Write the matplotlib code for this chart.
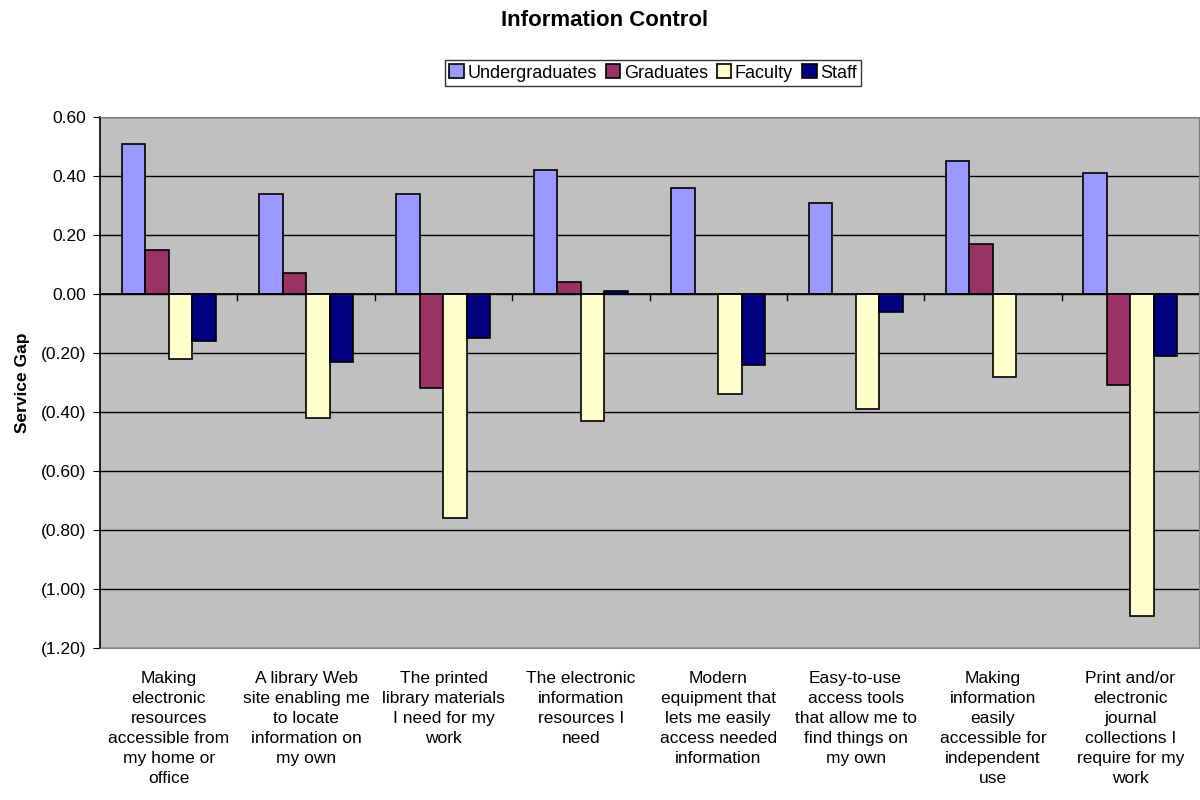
import numpy as np
import matplotlib
matplotlib.use("Agg")
import matplotlib.pyplot as plt
from matplotlib.ticker import FuncFormatter

plt.rcParams["font.family"] = ["Liberation Sans", "DejaVu Sans"]

categories = [
    "Making\nelectronic\nresources\naccessible from\nmy home or\noffice",
    "A library Web\nsite enabling me\nto locate\ninformation on\nmy own",
    "The printed\nlibrary materials\nI need for my\nwork",
    "The electronic\ninformation\nresources I\nneed",
    "Modern\nequipment that\nlets me easily\naccess needed\ninformation",
    "Easy-to-use\naccess tools\nthat allow me to\nfind things on\nmy own",
    "Making\ninformation\neasily\naccessible for\nindependent\nuse",
    "Print and/or\nelectronic\njournal\ncollections I\nrequire for my\nwork",
]
series_names = ["Undergraduates", "Graduates", "Faculty", "Staff"]
undergrads = [0.51, 0.34, 0.34, 0.42, 0.36, 0.31, 0.45, 0.41]
graduates = [0.15, 0.07, -0.32, 0.04, 0.0, 0.0, 0.17, -0.31]
faculty = [-0.22, -0.42, -0.76, -0.43, -0.34, -0.39, -0.28, -1.09]
staff = [-0.16, -0.23, -0.15, 0.01, -0.24, -0.06, 0.0, -0.21]
colors = ["#9999FF", "#993366", "#FFFFCC", "#000080"]

fig = plt.figure(figsize=(12, 8), dpi=100)
ax = fig.add_axes([100 / 1200, 1 - 648 / 800, 1099 / 1200, (648 - 117) / 800])
ax.set_facecolor("#C0C0C0")

x = np.arange(len(categories))
w = 0.171
for i, (vals, name, col) in enumerate(zip([undergrads, graduates, faculty, staff],
                                          series_names, colors)):
    vals = np.array(vals)
    mask = vals != 0
    ax.bar(x[mask] + (i - 1.5) * w, vals[mask], width=w, color=col,
           edgecolor="black", linewidth=1.2, label=name, zorder=3)

ax.set_xlim(-0.5, len(categories) - 0.5)
ax.set_ylim(-1.2, 0.6)
ax.set_yticks(np.arange(-1.2, 0.61, 0.2))
ax.yaxis.set_major_formatter(FuncFormatter(
    lambda v, p: f"({abs(v):.2f})" if v < -1e-9 else f"{abs(v):.2f}"))
ax.grid(axis="y", color="black", linewidth=1, zorder=1)
ax.tick_params(axis="y", labelsize=12.5, length=5, direction="out", pad=5)

# category labels below plot area, boundary ticks on the zero line
ax.set_xticks([])
for xi, lab in zip(x, categories):
    ax.text(xi, -1.278, lab, ha="center", va="top", fontsize=12.5,
            linespacing=1.42, transform=ax.transData, clip_on=False)
for b in np.arange(0.5, len(categories) - 0.5, 1.0):
    ax.plot([b, b], [0, -0.02], color="black", linewidth=1, zorder=4)
ax.axhline(0, color="black", linewidth=1.2, zorder=4)

for s in ["top", "right", "bottom"]:
    ax.spines[s].set_color("#808080")
ax.spines["left"].set_color("black")
ax.spines["left"].set_linewidth(1.2)

ax.set_ylabel("Service Gap", fontsize=12.5, fontweight="bold", labelpad=8)
fig.text(605 / 1200, 1 - 20 / 800, "Information Control", ha="center", va="center",
         fontsize=16, fontweight="bold")

leg = fig.legend(loc="center", bbox_to_anchor=(653 / 1200, 1 - 73 / 800), ncol=4,
                 fontsize=13, frameon=True, fancybox=False, handlelength=0.8,
                 handleheight=0.8, handletextpad=0.2, columnspacing=0.5,
                 borderpad=0.25, edgecolor="black")
leg.get_frame().set_linewidth(1)

fig.savefig("out.png", dpi=100)
